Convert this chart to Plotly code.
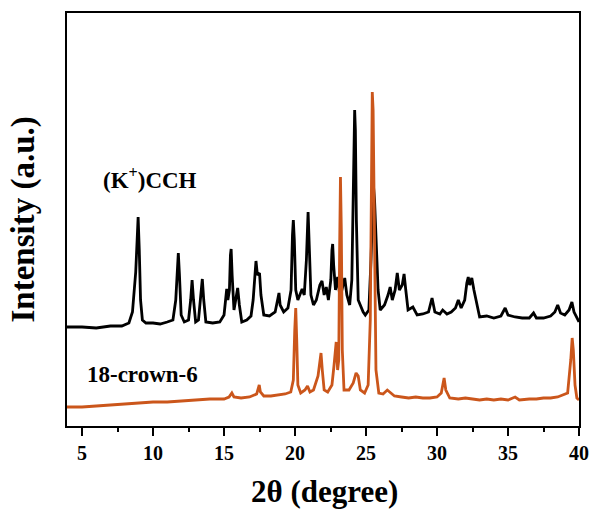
import plotly.graph_objects as go

# (K+)CCH pattern (offset upward), 2theta in degrees and intensity (a.u.)
cch_x = [3.94, 5.0, 6.0, 7.0, 7.8, 8.3, 8.55, 8.7, 8.78, 8.88, 8.95, 9.03, 9.12, 9.25, 9.5, 10.0, 10.5, 11.0,
         11.4, 11.6, 11.72, 11.78, 11.86, 11.98, 12.2, 12.5, 12.65, 12.75, 12.85, 13.0, 13.2, 13.35, 13.47,
         13.57, 13.72, 14.2, 14.7, 15.0, 15.12, 15.19, 15.27, 15.38, 15.45, 15.5, 15.57, 15.7, 15.82, 15.96,
         16.08, 16.25, 16.6, 16.9, 17.05, 17.15, 17.25, 17.35, 17.5, 17.6, 17.8, 18.2, 18.6, 18.8, 18.87,
         18.95, 19.2, 19.5, 19.72, 19.82, 19.88, 19.95, 20.05, 20.2, 20.5, 20.65, 20.8, 20.92, 21.0, 21.12,
         21.3, 21.5, 21.75, 21.9, 22.05, 22.2, 22.35, 22.52, 22.6, 22.65, 22.72, 22.85, 23.0, 23.15, 23.3,
         23.5, 23.65, 23.85, 24.0, 24.1, 24.17, 24.2, 24.25, 24.32, 24.45, 24.6, 24.8, 24.95, 25.2, 25.35,
         25.45, 25.52, 25.6, 25.7, 25.85, 26.0, 26.3, 26.55, 26.7, 26.85, 27.05, 27.2, 27.35, 27.55, 27.68,
         27.8, 27.96, 28.3, 28.6, 29.0, 29.4, 29.65, 29.85, 30.2, 30.4, 30.7, 31.0, 31.3, 31.5, 31.7, 31.95,
         32.1, 32.2, 32.3, 32.45, 32.6, 32.75, 33.0, 33.5, 34.0, 34.5, 34.8, 35.0, 35.5, 36.0, 36.5, 36.8,
         37.0, 37.5, 38.0, 38.3, 38.5, 38.7, 39.0, 39.3, 39.5, 39.65, 39.85, 40.0]
cch_y = [99, 99, 98, 100, 100, 103, 114, 136, 154, 186, 209, 176, 126, 106, 103, 103, 102, 104,
         106, 126, 164, 173, 151, 111, 104, 106, 126, 146, 126, 104, 106, 126, 147,
         126, 104, 103, 104, 111, 131, 137, 126, 136, 171, 177, 151, 116, 126, 138,
         121, 104, 106, 110, 126, 151, 165, 151, 153, 131, 111, 110, 114, 128, 133,
         121, 114, 118, 136, 191, 206, 186, 136, 126, 137, 131, 166, 214, 181, 131,
         121, 126, 141, 145, 131, 139, 126, 146, 176, 182, 161, 136, 149, 131, 136,
         148, 131, 121, 146, 246, 311, 316, 296, 206, 126, 121, 114, 111, 116, 166,
         226, 241, 226, 181, 136, 116, 121, 131, 139, 126, 136, 153, 136, 141, 152,
         136, 116, 119, 111, 112, 114, 128, 114, 112, 116, 112, 114, 118, 126, 118, 126,
         143, 149, 141, 148, 136, 126, 109, 110, 108, 110, 118, 111, 109, 108, 108, 113,
         108, 108, 110, 114, 121, 113, 111, 116, 124, 114, 108, 104]

# 18-crown-6 pattern
crown_x = [3.94, 5, 6, 7, 8, 9, 10, 11, 12, 13, 14, 15, 15.35, 15.55, 15.7, 16.2, 16.8, 17.3, 17.42, 17.48,
           17.56, 17.8, 18.3, 18.8, 19.3, 19.7, 19.88, 19.98, 20.05, 20.12, 20.2, 20.4, 20.7, 20.88, 21.05,
           21.3, 21.5, 21.62, 21.72, 21.83, 21.92, 22.05, 22.3, 22.6, 22.75, 22.9, 23.0, 23.08, 23.14, 23.2,
           23.26, 23.33, 23.45, 23.8, 24.1, 24.3, 24.45, 24.6, 24.9, 25.15, 25.3, 25.38, 25.44, 25.5, 25.58,
           25.7, 25.9, 26.2, 26.5, 26.65, 27.0, 27.5, 28.0, 28.5, 29.0, 29.5, 30.0, 30.3, 30.5, 30.62, 30.9,
           31.5, 32.0, 32.5, 33.0, 33.5, 34.0, 34.5, 35.0, 35.5, 35.8, 36.5, 37.0, 37.5, 38.0, 38.5, 38.9,
           39.2, 39.42, 39.52, 39.6, 39.72, 39.85, 40.0]
crown_y = [19, 19, 20, 21, 22, 23, 24, 24, 25, 26, 27, 27, 29, 33, 29, 28, 29, 32, 40, 41,
           34, 30, 30, 31, 32, 34, 46, 96, 118, 86, 41, 33, 36, 40, 34,
           36, 44, 50, 61, 73, 56, 36, 34, 41, 61, 84, 56, 66, 176, 249,
           196, 76, 36, 36, 43, 53, 50, 36, 33, 41, 106, 246, 334, 316, 176,
           56, 33, 32, 36, 34, 30, 29, 28, 29, 28, 28, 29, 33, 48, 36, 28,
           27, 28, 27, 26, 27, 26, 27, 26, 29, 26, 27, 27, 28, 28, 29, 31,
           33, 66, 88, 76, 41, 28, 26]

labels = ["(K<sup>+</sup>)CCH", "18-crown-6"]
x_ticks = [5, 10, 15, 20, 25, 30, 35, 40]
x_minor = [7.5, 12.5, 17.5, 22.5, 27.5, 32.5, 37.5]

serif = "Times New Roman, Liberation Serif, serif"

fig = go.Figure()
fig.add_trace(go.Scatter(x=cch_x, y=cch_y, mode="lines",
                         line=dict(color="#000000", width=2.8), showlegend=False))
fig.add_trace(go.Scatter(x=crown_x, y=crown_y, mode="lines",
                         line=dict(color="#CB561B", width=2.8), showlegend=False))

fig.add_annotation(x=9.8, y=248, text=labels[0], showarrow=False,
                   font=dict(family=serif, size=23, color="black", weight="bold"))
fig.add_annotation(x=9.25, y=52, text=labels[1], showarrow=False,
                   font=dict(family=serif, size=23, color="black", weight="bold"))

fig.add_annotation(xref="paper", yref="paper", x=(23 - 67) / 512, y=0.5,
                   text="Intensity (a.u.)", textangle=-90, showarrow=False,
                   xanchor="center", yanchor="middle",
                   font=dict(family=serif, size=33, color="black", weight="bold"))
fig.add_annotation(xref="paper", yref="paper", x=(324 - 67) / 512, y=-(492 - 426) / 413,
                   text="2θ (degree)", showarrow=False,
                   xanchor="center", yanchor="middle",
                   font=dict(family=serif, size=31, color="black", weight="bold"))

fig.update_layout(
    width=593, height=511,
    margin=dict(l=67, r=14, t=13, b=85, autoexpand=False),
    paper_bgcolor="white", plot_bgcolor="white",
    xaxis=dict(range=[3.94, 40], tickvals=x_ticks, ticks="outside", ticklen=8, tickwidth=2,
               tickcolor="black", showline=True, linewidth=2.2, linecolor="black", mirror=True,
               showgrid=False, zeroline=False, automargin=False,
               tickfont=dict(family=serif, size=20, color="black", weight="bold"),
               minor=dict(ticks="outside", ticklen=4, tickwidth=2, tickcolor="black",
                          tickvals=x_minor)),
    yaxis=dict(range=[0, 413], showticklabels=False, ticks="", showline=True, linewidth=2.2,
               linecolor="black", mirror=True, showgrid=False, zeroline=False, automargin=False),
)

fig.write_html("out.html")
